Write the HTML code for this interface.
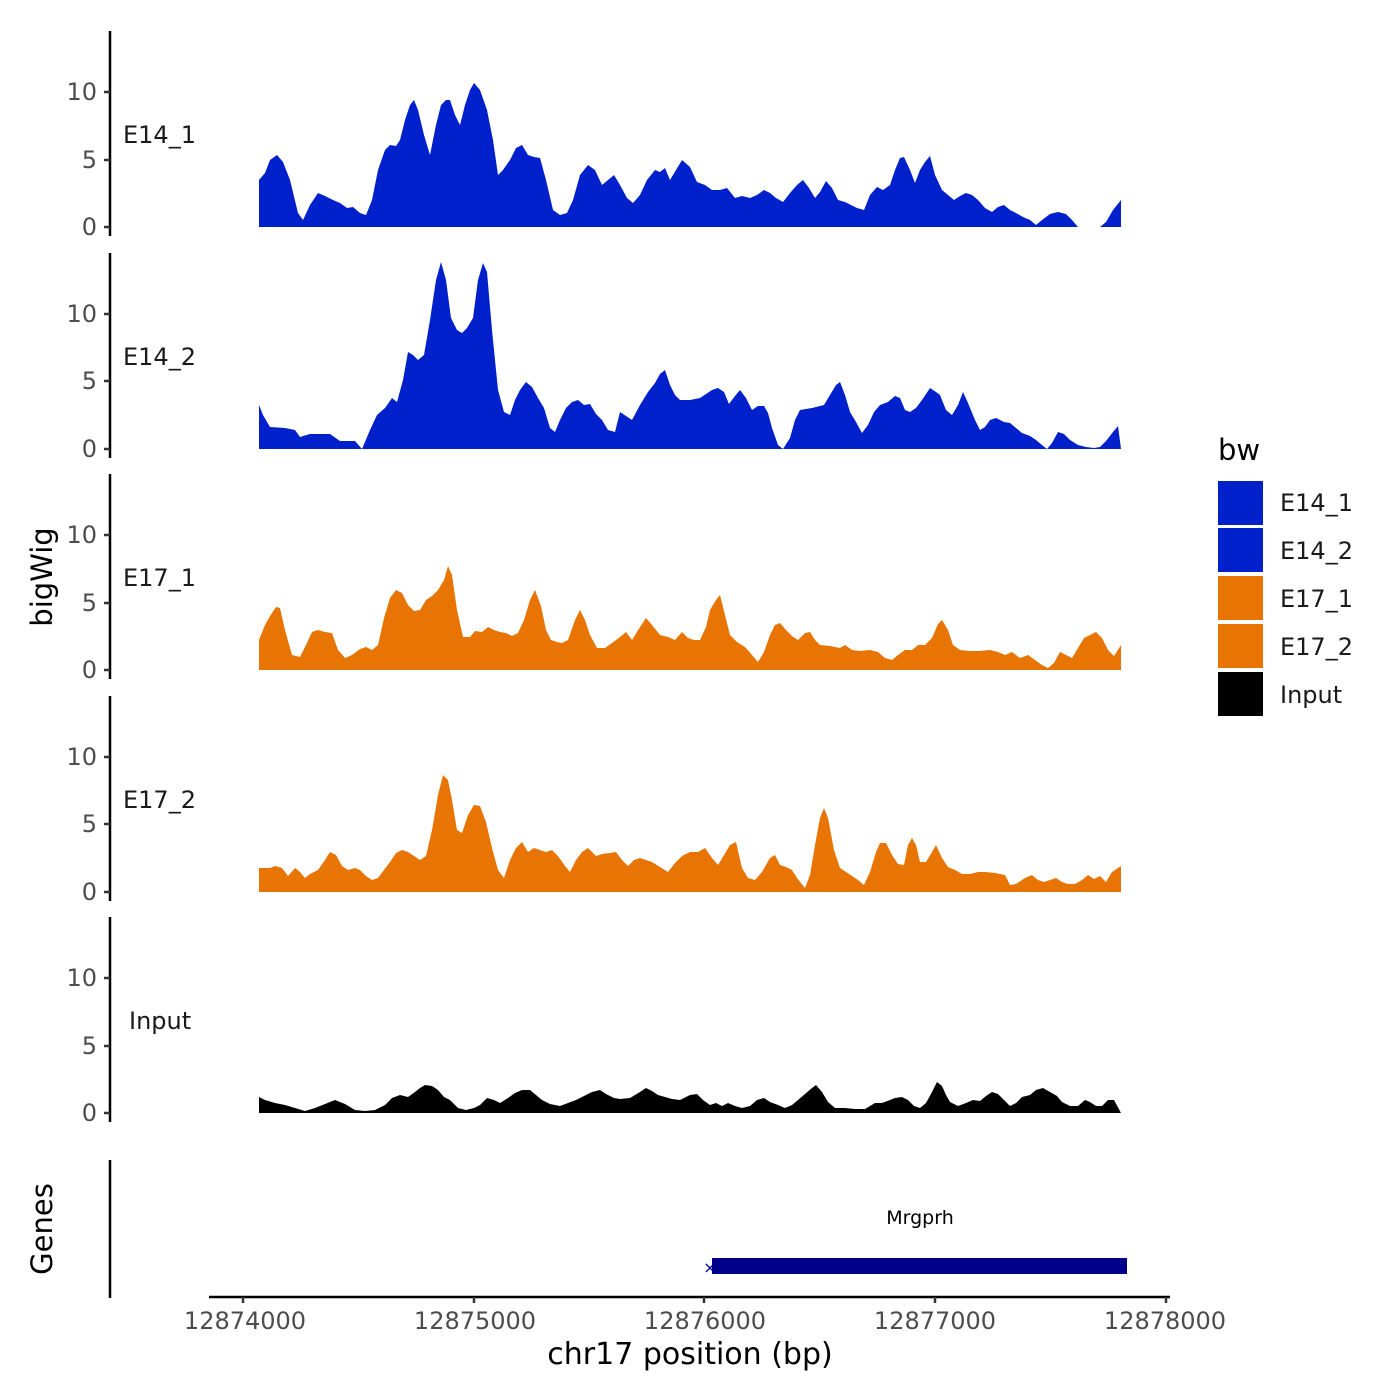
<!DOCTYPE html><html><head><style>body{margin:0;background:#fff}svg{display:block}text{font-family:"DejaVu Sans","Liberation Sans",sans-serif}</style></head><body>
<svg width="1400" height="1400" viewBox="0 0 1400 1400" xmlns="http://www.w3.org/2000/svg">
<g fill="#0020CC">
<polygon points="259,227 259,180 265,173 270,160 277,155 283,162 290,180 298,213 303,220 310,205 318,193 325,196 333,200 340,203 347,208 353,207 360,213 366,215 372,200 378,170 385,150 390,145 396,146 400,140 405,120 410,105 414,100 418,110 424,135 430,155 436,125 441,105 446,100 450,100 455,115 460,125 465,105 470,90 474,83 480,90 487,110 493,140 498,175 503,170 510,160 516,148 522,145 528,155 534,157 540,158 546,180 553,210 560,215 567,213 573,200 580,175 588,165 595,170 602,185 608,180 614,175 620,185 627,198 633,203 640,195 647,180 655,170 660,172 665,168 670,180 676,170 682,160 690,167 697,182 705,185 712,190 720,190 727,188 735,198 742,196 750,198 757,195 764,190 770,193 776,198 783,202 790,193 797,185 803,180 809,188 815,198 820,192 826,181 832,188 838,200 845,202 851,205 857,208 864,210 870,195 877,187 883,190 890,185 895,170 900,158 904,157 910,170 915,183 920,170 925,162 930,156 935,175 942,190 948,195 954,200 960,196 966,193 972,195 978,200 985,208 992,212 998,207 1004,205 1010,210 1016,213 1023,217 1030,220 1036,225 1042,220 1050,214 1058,212 1066,214 1072,220 1078,227 1100,227 1106,222 1113,210 1121,200 1121,227"/>
<polygon points="259,449 259,405 263,415 270,427 285,428 295,430 300,437 310,434 330,434 340,441 355,441 362,449 370,430 377,415 385,408 392,398 397,402 403,380 408,352 413,355 418,360 424,355 430,320 436,280 441,262 446,280 451,318 457,330 462,333 467,328 473,318 478,280 483,263 487,272 492,330 498,390 504,412 510,415 515,400 520,390 526,382 532,387 538,398 544,408 550,428 555,432 560,420 566,408 572,402 578,400 584,405 590,404 596,414 602,420 608,430 615,432 620,412 626,416 632,420 640,405 648,392 655,383 660,374 665,370 670,385 675,395 680,400 690,400 700,398 706,394 712,390 718,388 724,392 729,404 735,396 740,390 746,398 752,410 758,406 764,406 768,413 772,428 778,445 783,449 790,438 795,420 800,410 812,408 824,405 830,395 836,385 840,382 845,395 850,412 856,422 862,433 868,425 874,412 880,405 888,402 895,396 900,398 905,410 910,412 916,408 922,400 930,388 936,392 940,395 946,410 952,415 958,405 963,392 968,403 975,420 980,430 985,427 990,420 996,418 1004,422 1010,423 1016,428 1022,433 1030,436 1036,440 1042,445 1047,449 1052,443 1058,432 1064,434 1070,440 1078,445 1086,447 1094,448 1100,447 1106,441 1113,432 1118,426 1121,449"/>
</g>
<g fill="#E87503">
<polygon points="259,670 259,640 265,625 270,616 276,607 280,608 285,630 292,655 300,657 306,645 312,632 318,630 325,632 332,633 338,650 345,658 352,655 360,649 366,647 372,650 378,645 384,618 390,598 396,590 402,593 408,605 414,611 420,610 426,600 432,596 438,590 444,580 448,566 452,575 457,610 463,637 470,637 475,631 482,632 488,627 494,630 500,632 506,633 512,636 518,633 524,620 530,600 535,590 541,606 546,630 551,640 557,642 562,643 568,640 575,620 580,610 585,620 590,635 597,648 605,648 612,643 620,637 626,632 632,640 640,627 646,618 652,625 660,635 668,637 675,640 682,632 688,638 694,640 700,640 706,627 710,610 716,600 720,595 725,615 730,635 737,642 745,647 752,655 758,662 764,652 770,635 775,625 780,623 786,630 792,636 798,640 805,633 810,632 815,640 820,645 830,646 840,648 845,645 852,650 860,651 870,650 878,652 885,658 892,660 898,655 905,650 912,650 918,645 925,645 932,638 938,624 942,620 948,630 953,645 960,650 970,651 980,651 990,650 998,652 1005,655 1012,652 1020,658 1028,655 1035,660 1042,665 1048,668 1054,663 1060,652 1066,655 1072,658 1078,648 1084,638 1090,635 1096,632 1102,638 1108,650 1114,656 1121,645 1121,670"/>
<polygon points="259,892 259,868 270,868 275,866 282,868 288,876 295,868 300,872 305,878 310,874 318,870 325,860 330,852 336,855 342,866 348,870 355,868 360,870 366,876 372,880 378,878 384,870 390,862 396,853 402,850 408,852 414,856 420,860 426,856 432,830 438,795 443,775 448,780 452,800 457,830 462,833 468,815 474,805 480,806 486,822 492,848 498,870 504,878 510,860 516,848 522,842 528,852 534,848 540,850 546,852 552,850 558,856 565,866 570,872 576,860 582,852 588,848 596,856 602,854 610,853 616,852 622,860 628,866 634,860 640,858 646,860 652,862 660,867 668,872 675,863 682,856 690,852 698,852 705,848 712,858 718,865 724,855 730,845 736,842 742,868 748,878 755,880 762,872 770,858 775,855 780,865 786,867 792,870 797,878 805,888 810,875 815,845 820,818 824,808 828,818 834,850 840,868 846,872 852,876 858,880 864,885 870,872 876,852 880,843 886,843 892,855 898,864 904,865 908,845 912,838 916,845 920,862 926,862 932,852 936,845 942,858 948,867 955,870 962,874 970,874 978,872 986,872 995,873 1005,875 1010,885 1016,884 1025,878 1032,875 1038,880 1044,882 1050,880 1056,878 1062,882 1068,884 1075,884 1082,880 1088,875 1094,879 1100,876 1106,882 1112,872 1121,866 1121,892"/>
</g>
<polygon fill="#000" points="259,1113 259,1097 265,1100 275,1103 285,1105 295,1108 305,1111 315,1108 325,1104 335,1100 345,1104 355,1110 365,1111 375,1110 385,1105 392,1098 400,1095 408,1097 415,1092 420,1088 425,1085 432,1086 438,1090 444,1097 450,1100 458,1108 466,1110 474,1108 480,1105 487,1098 494,1100 500,1103 508,1098 515,1093 522,1090 530,1090 536,1095 542,1100 550,1104 560,1106 568,1103 576,1100 584,1096 592,1092 600,1090 606,1094 614,1098 620,1099 630,1098 640,1092 646,1088 652,1091 658,1095 665,1097 672,1099 680,1100 690,1095 697,1094 703,1100 710,1105 716,1103 722,1106 728,1103 735,1106 742,1108 750,1106 757,1100 764,1098 770,1102 778,1105 785,1108 792,1105 798,1100 805,1094 812,1088 816,1085 822,1092 828,1102 835,1108 845,1108 855,1109 865,1109 870,1106 875,1103 882,1103 890,1100 895,1098 902,1097 908,1100 914,1106 920,1108 926,1103 932,1092 937,1082 942,1086 946,1095 950,1102 958,1106 966,1103 973,1100 980,1101 986,1096 992,1092 998,1094 1004,1100 1010,1106 1016,1103 1022,1097 1030,1095 1036,1090 1043,1088 1050,1092 1057,1096 1062,1102 1070,1106 1078,1106 1085,1100 1090,1102 1096,1106 1102,1106 1108,1100 1114,1100 1121,1113"/>
<g stroke="#000" stroke-width="2.5" fill="none">
<line x1="110" y1="31" x2="110" y2="236"/><line x1="110" y1="253" x2="110" y2="458"/><line x1="110" y1="474" x2="110" y2="679"/><line x1="110" y1="696" x2="110" y2="901"/><line x1="110" y1="917" x2="110" y2="1122"/><line x1="110" y1="1160" x2="110" y2="1298"/>
<line x1="209" y1="1297" x2="1170" y2="1297"/>
</g>
<g stroke="#333" stroke-width="2.5">
<line x1="104" y1="92" x2="110" y2="92"/><line x1="104" y1="160" x2="110" y2="160"/><line x1="104" y1="227" x2="110" y2="227"/>
<line x1="104" y1="314" x2="110" y2="314"/><line x1="104" y1="381" x2="110" y2="381"/><line x1="104" y1="449" x2="110" y2="449"/>
<line x1="104" y1="535" x2="110" y2="535"/><line x1="104" y1="603" x2="110" y2="603"/><line x1="104" y1="670" x2="110" y2="670"/>
<line x1="104" y1="757" x2="110" y2="757"/><line x1="104" y1="824" x2="110" y2="824"/><line x1="104" y1="892" x2="110" y2="892"/>
<line x1="104" y1="978" x2="110" y2="978"/><line x1="104" y1="1046" x2="110" y2="1046"/><line x1="104" y1="1113" x2="110" y2="1113"/>
<line x1="243" y1="1297" x2="243" y2="1303"/><line x1="474" y1="1297" x2="474" y2="1303"/><line x1="704" y1="1297" x2="704" y2="1303"/><line x1="935" y1="1297" x2="935" y2="1303"/><line x1="1166" y1="1297" x2="1166" y2="1303"/>
</g>
<g fill="#4d4d4d" font-size="24" text-anchor="end">
<text x="97" y="100">10</text><text x="97" y="168">5</text><text x="97" y="235">0</text>
<text x="97" y="322">10</text><text x="97" y="389">5</text><text x="97" y="457">0</text>
<text x="97" y="543">10</text><text x="97" y="611">5</text><text x="97" y="678">0</text>
<text x="97" y="765">10</text><text x="97" y="832">5</text><text x="97" y="900">0</text>
<text x="97" y="986">10</text><text x="97" y="1054">5</text><text x="97" y="1121">0</text>
</g>
<g fill="#4d4d4d" font-size="24" text-anchor="middle">
<text x="245" y="1329">12874000</text><text x="475" y="1329">12875000</text><text x="705" y="1329">12876000</text><text x="935" y="1329">12877000</text><text x="1165" y="1329">12878000</text>
</g>
<g fill="#1a1a1a" font-size="24">
<text x="123" y="143">E14_1</text><text x="123" y="365">E14_2</text><text x="123" y="586">E17_1</text><text x="123" y="808">E17_2</text><text x="129" y="1029">Input</text>
</g>
<text x="690" y="1364" font-size="30" text-anchor="middle">chr17 position (bp)</text>
<text transform="translate(52,577) rotate(-90)" font-size="29" text-anchor="middle">bigWig</text>
<text transform="translate(52,1229) rotate(-90)" font-size="29" text-anchor="middle">Genes</text>
<text x="920" y="1224" font-size="19" text-anchor="middle">Mrgprh</text>
<rect x="712" y="1258" width="415" height="16" fill="#00008B"/>
<text x="710" y="1273" font-size="16" fill="#00008B" text-anchor="middle">×</text>
<text x="1218" y="460" font-size="29">bw</text>
<rect x="1218" y="481" width="45" height="44" fill="#0020CC"/>
<rect x="1218" y="528" width="45" height="44" fill="#0020CC"/>
<rect x="1218" y="576" width="45" height="44" fill="#E87503"/>
<rect x="1218" y="624" width="45" height="44" fill="#E87503"/>
<rect x="1218" y="672" width="45" height="44" fill="#000"/>
<g font-size="24" fill="#1a1a1a">
<text x="1280" y="511">E14_1</text><text x="1280" y="559">E14_2</text><text x="1280" y="607">E17_1</text><text x="1280" y="655">E17_2</text><text x="1280" y="703">Input</text>
</g>
</svg></body></html>
